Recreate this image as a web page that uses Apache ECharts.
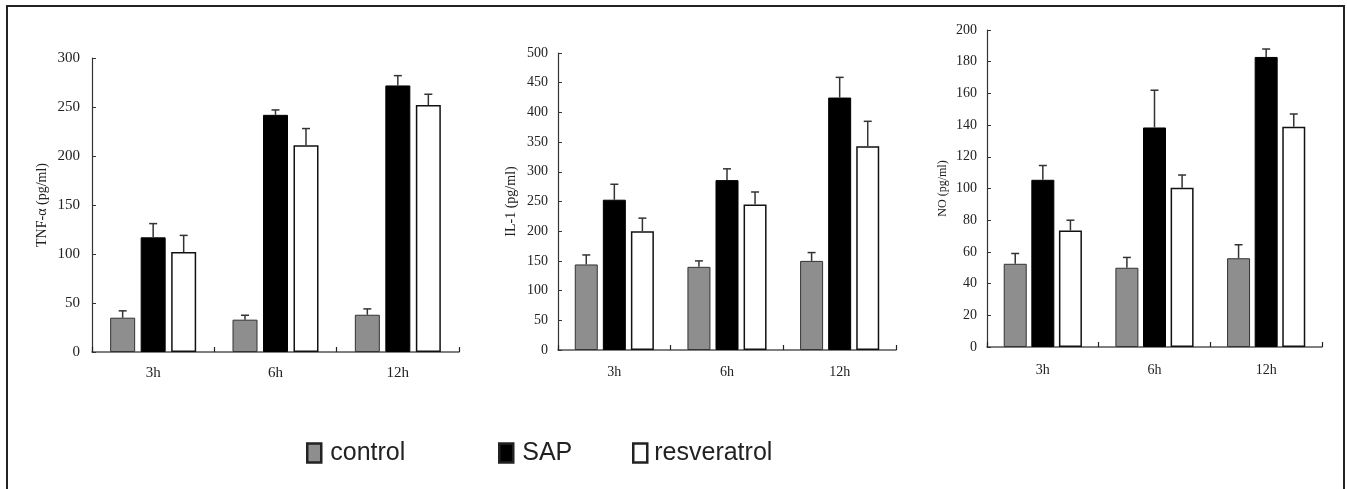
<!DOCTYPE html>
<html>
<head>
<meta charset="utf-8">
<script src="https://cdn.jsdelivr.net/npm/echarts@6/dist/echarts.min.js"></script>
<style>
  html, body { margin: 0; padding: 0; background: #fff; }
  #chart { width: 1347px; height: 489px; }
</style>
</head>
<body>
<div id="chart"></div>
<script>
const categories = ['3h', '6h', '12h']
const groups = ['control', 'SAP', 'resveratrol']

// TNF-α (pg/ml)
const tnfControl = [35, 33, 38]
const tnfControlSd = [7, 4.5, 6]
const tnfSap = [117, 242, 272]
const tnfSapSd = [14, 5, 10]
const tnfResv = [102, 211, 252]
const tnfResvSd = [17, 17, 11]

// IL-1 (pg/ml)
const ilControl = [144, 140, 150]
const ilControlSd = [16, 10, 14]
const ilSap = [253, 286, 425]
const ilSapSd = [26, 19, 34]
const ilResv = [200, 245, 343]
const ilResvSd = [22, 21, 42]

// NO (pg/ml)
const noControl = [52.5, 50, 56]
const noControlSd = [6.5, 6.5, 8.5]
const noSap = [105.5, 138.5, 183]
const noSapSd = [9, 23.5, 5]
const noResv = [73.5, 100.5, 139]
const noResvSd = [6.5, 8, 8]

const serif = 'Liberation Serif, Times New Roman, serif'
const barStyles = [
  { color: '#8e8e8e', borderColor: '#333', borderWidth: 1 },
  { color: '#000', borderColor: '#000', borderWidth: 1 },
  { color: '#fff', borderColor: '#111', borderWidth: 1.5 }
]

const panels = [
  { name: 'TNF-α (pg/ml)', max: 300, interval: 50, barWidth: 25, gap: 0.22, font: 15, nameFont: 14, nameGap: 43,
    grid: { left: 92, top: 58, width: 367, height: 294 }, labelMargin: 12, catMargin: 14,
    values: [tnfControl, tnfSap, tnfResv], sd: [tnfControlSd, tnfSapSd, tnfResvSd] },
  { name: 'IL-1 (pg/ml)', max: 500, interval: 50, barWidth: 23, gap: 0.22, font: 14, nameFont: 14, nameGap: 40,
    grid: { left: 558, top: 53, width: 338, height: 297 }, labelMargin: 10, catMargin: 15,
    values: [ilControl, ilSap, ilResv], sd: [ilControlSd, ilSapSd, ilResvSd] },
  { name: 'NO (pg/ml)', max: 200, interval: 20, barWidth: 23, gap: 0.2, font: 14, nameFont: 12, nameGap: 38,
    grid: { left: 987, top: 30, width: 335, height: 317 }, labelMargin: 10, catMargin: 16,
    values: [noControl, noSap, noResv], sd: [noControlSd, noSapSd, noResvSd] }
]

function errorRender(offset) {
  return function(params, api) {
    const base = api.coord([api.value(0), api.value(1)])
    const top = api.coord([api.value(0), api.value(2)])
    const cx = base[0] + offset
    const style = { stroke: '#333', lineWidth: 1.5 }
    return {
      type: 'group',
      children: [
        { type: 'line', shape: { x1: cx, y1: base[1], x2: cx, y2: top[1] }, style },
        { type: 'line', shape: { x1: cx - 4, y1: top[1], x2: cx + 4, y2: top[1] }, style }
      ]
    }
  }
}

const grid = []
const xAxis = []
const yAxis = []
const series = []

panels.forEach((p, pi) => {
  grid.push(p.grid)
  xAxis.push({
    type: 'category',
    gridIndex: pi,
    data: categories,
    axisLine: { lineStyle: { color: '#555', width: 1.5 } },
    axisTick: { show: true, alignWithLabel: false, interval: 0, inside: true, length: 5, lineStyle: { color: '#222', width: 1.2 } },
    axisLabel: { color: '#222', fontFamily: serif, fontSize: p.font, margin: p.catMargin }
  })
  yAxis.push({
    type: 'value',
    gridIndex: pi,
    min: 0,
    max: p.max,
    interval: p.interval,
    name: p.name,
    nameLocation: 'middle',
    nameGap: p.nameGap,
    nameTextStyle: { color: '#222', fontFamily: serif, fontSize: p.nameFont },
    axisLine: { show: true, lineStyle: { color: '#333', width: 1.2 } },
    axisTick: { show: true, inside: true, length: 4, lineStyle: { color: '#333' } },
    splitLine: { show: false },
    axisLabel: { color: '#222', fontFamily: serif, fontSize: p.font, margin: p.labelMargin }
  })
  const step = p.barWidth * (1 + p.gap)
  groups.forEach((g, gi) => {
    series.push({
      name: g,
      type: 'bar',
      xAxisIndex: pi,
      yAxisIndex: pi,
      barWidth: p.barWidth,
      barGap: (p.gap * 100) + '%',
      itemStyle: barStyles[gi],
      data: p.values[gi],
      z: 2
    })
  })
  groups.forEach((g, gi) => {
    series.push({
      name: g,
      type: 'custom',
      xAxisIndex: pi,
      yAxisIndex: pi,
      renderItem: errorRender((gi - 1) * step),
      data: p.values[gi].map((v, i) => [i, v, v + p.sd[gi][i]]),
      encode: { x: 0, y: [1, 2] },
      z: 3,
      silent: true
    })
  })
})

function legendFor(name, left, gap) {
  const gi = groups.indexOf(name)
  return {
    left: left,
    top: 440,
    padding: 0,
    itemWidth: 14,
    itemHeight: 19,
    icon: 'rect',
    selectedMode: false,
    data: [{
      name: name,
      itemStyle: { color: barStyles[gi].color, borderColor: '#222', borderWidth: 2.5 }
    }],
    textStyle: {
      color: '#222',
      fontFamily: 'Liberation Sans, Arial, sans-serif',
      fontSize: 25,
      lineHeight: 26,
      padding: [0, 0, 0, gap]
    }
  }
}

const chart = echarts.init(document.getElementById('chart'))
chart.setOption({
  animation: false,
  grid: grid,
  xAxis: xAxis,
  yAxis: yAxis,
  legend: [
    legendFor('control', 306, 4),
    legendFor('SAP', 498, 4),
    legendFor('resveratrol', 632, 2)
  ],
  graphic: [{
    type: 'rect',
    shape: { x: 7, y: 6, width: 1337, height: 520 },
    style: { fill: 'none', stroke: '#222', lineWidth: 2 },
    silent: true
  }],
  series: series
})
</script>
</body>
</html>
